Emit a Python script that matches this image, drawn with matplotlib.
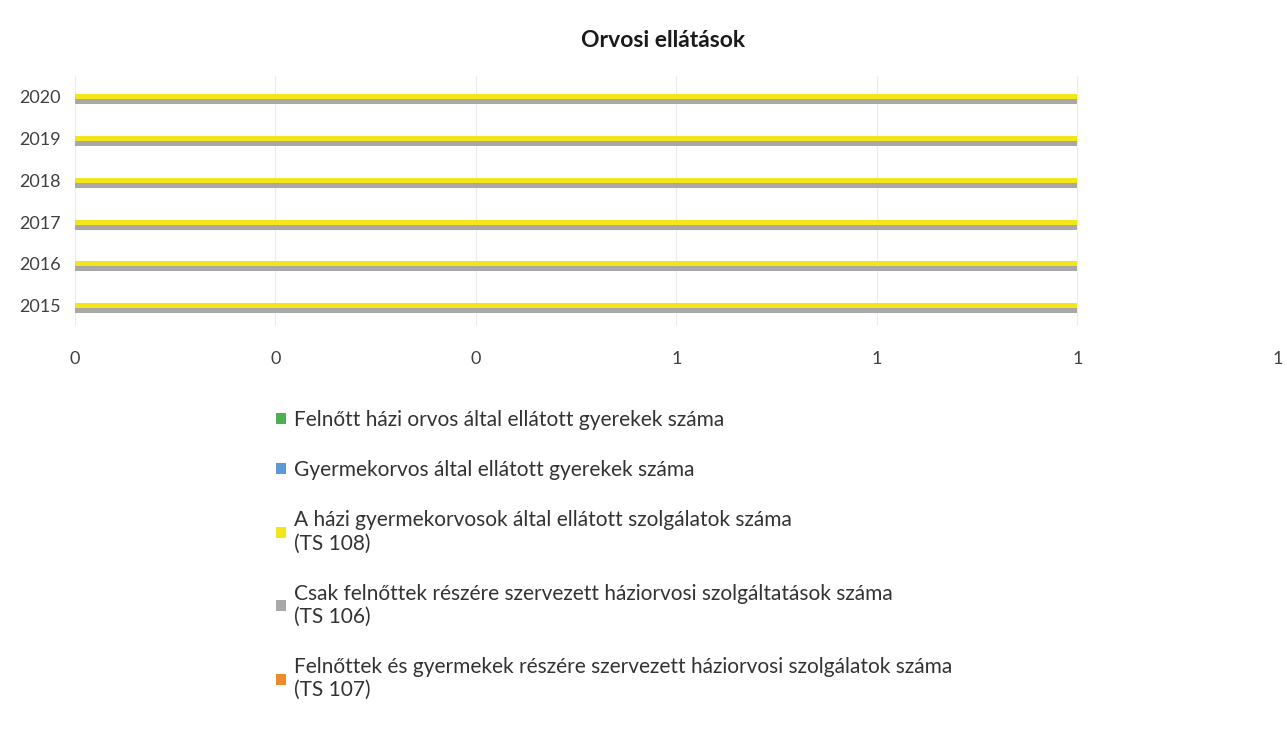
import numpy as np
import matplotlib
matplotlib.use("Agg")
import matplotlib.pyplot as plt
from matplotlib.ticker import FuncFormatter, MultipleLocator

plt.rcParams['font.family'] = ['Lato', 'DejaVu Sans']

# data (series listed in Excel's drawing order: first one ends up at the bottom of each group)
years = ["2015", "2016", "2017", "2018", "2019", "2020"]
series_names = [
    "Felnőttek és gyermekek részére szervezett háziorvosi szolgálatok száma\n(TS 107)",
    "Csak felnőttek részére szervezett háziorvosi szolgáltatások száma\n(TS 106)",
    "A házi gyermekorvosok által ellátott szolgálatok száma\n(TS 108)",
    "Gyermekorvos által ellátott gyerekek száma",
    "Felnőtt házi orvos által ellátott gyerekek száma",
]
ts107 = [0, 0, 0, 0, 0, 0]
ts106 = [1, 1, 1, 1, 1, 1]
ts108 = [1, 1, 1, 1, 1, 1]
gyermekorvos = [0, 0, 0, 0, 0, 0]
felnott_orvos = [0, 0, 0, 0, 0, 0]
series_values = [ts107, ts106, ts108, gyermekorvos, felnott_orvos]
series_colors = ["#ee8a2e", "#a8a8a8", "#f2e51a", "#5b9bd5", "#4caf50"]

fig = plt.figure(figsize=(12.87, 7.45), dpi=100)
ax = fig.add_axes([0.058, 0.562, 0.935, 0.336])

y = np.arange(len(years))
bar_h = 0.12
n = len(series_values)
handles = []
for i, (vals, col, name) in enumerate(zip(series_values, series_colors, series_names)):
    offset = (i - (n - 1) / 2) * bar_h
    b = ax.barh(y + offset, vals, height=bar_h, color=col, label=name)
    handles.append(b)

ax.set_xlim(0, 1.2)
ax.set_ylim(-0.5, len(years) - 0.5)
ax.set_yticks(y)
ax.set_yticklabels(years)
ax.xaxis.set_major_locator(MultipleLocator(0.2))
ax.xaxis.set_major_formatter(FuncFormatter(lambda v, p: f"{v:.0f}"))
ax.tick_params(axis='both', length=0, labelsize=13, colors="#404040")
ax.tick_params(axis='x', pad=18)
ax.tick_params(axis='y', pad=10)
ax.grid(axis='x', color="#ececec", linewidth=0.8)
ax.set_axisbelow(True)
for s in ax.spines.values():
    s.set_visible(False)

fig.text(0.515, 0.945, "Orvosi ellátások", ha='center', va='center',
         fontsize=16.5, fontweight='bold', color="#1a1a1a")

# legend lists the series top-down like Excel does for bar charts
leg = fig.legend(handles[::-1], series_names[::-1], loc='upper left',
                 bbox_to_anchor=(0.2, 0.475), frameon=False, fontsize=15,
                 handlelength=0.45, handleheight=0.45, handletextpad=0.4,
                 labelspacing=1.45, labelcolor="#333333")

fig.savefig("out.png", dpi=100)
